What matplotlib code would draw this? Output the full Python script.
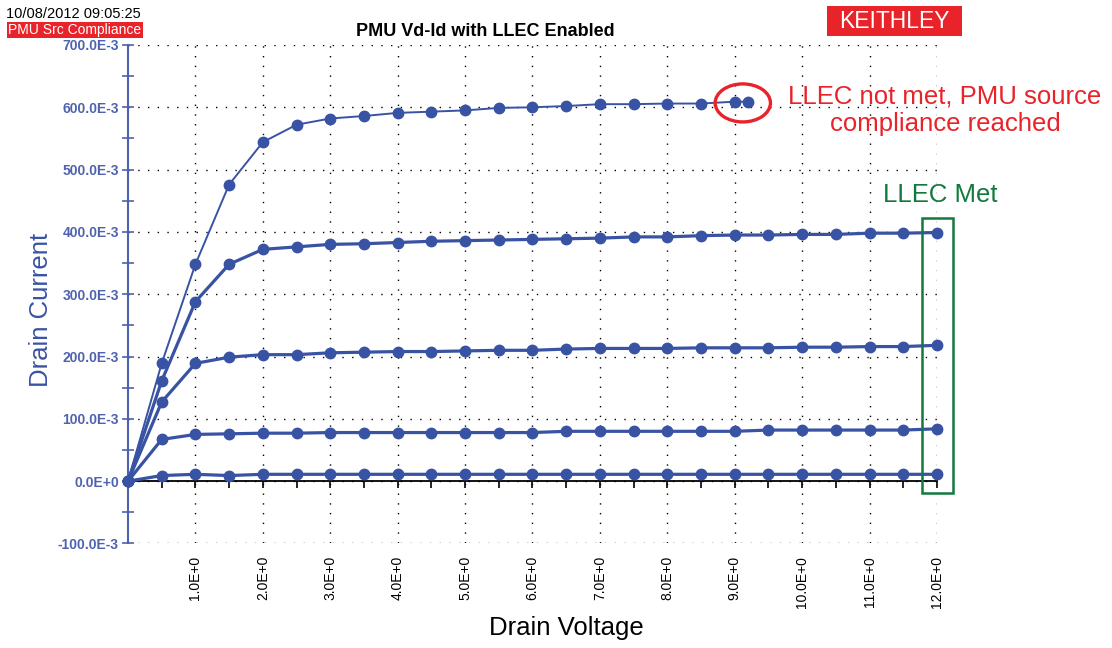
import matplotlib
matplotlib.use("Agg")
import matplotlib.pyplot as plt
from matplotlib.patches import Ellipse, Rectangle
from matplotlib.ticker import FuncFormatter, MultipleLocator

plt.rcParams['font.family'] = ['Liberation Sans', 'DejaVu Sans']

# drain voltage sweep (V)
vd = [0.0, 0.5, 1.0, 1.5, 2.0, 2.5, 3.0, 3.5, 4.0, 4.5, 5.0, 5.5, 6.0,
      6.5, 7.0, 7.5, 8.0, 8.5, 9.0, 9.5, 10.0, 10.5, 11.0, 11.5, 12.0]
# highest gate bias stops early when the source hits compliance
vd_top = [0.0, 0.5, 1.0, 1.5, 2.0, 2.5, 3.0, 3.5, 4.0, 4.5, 5.0, 5.5, 6.0,
          6.5, 7.0, 7.5, 8.0, 8.5, 9.0, 9.2]

# drain current (mA)
id_top = [0, 189, 348, 476, 544, 572, 582, 586, 591, 593, 595, 599, 600,
          602, 605, 605, 606, 606, 609, 609]
id_400 = [0, 161, 288, 348, 372, 376, 380, 381, 383, 385, 386, 387, 388,
          389, 390, 392, 392, 394, 395, 395, 396, 396, 398, 398, 399]
id_200 = [0, 127, 189, 199, 203, 203, 206, 207, 208, 208, 209, 210, 210,
          212, 213, 213, 213, 214, 214, 214, 215, 215, 216, 216, 218]
id_80 = [0, 67, 75, 76, 77, 77, 78, 78, 78, 78, 78, 78, 78,
         80, 80, 80, 80, 80, 80, 82, 82, 82, 82, 82, 84]
id_10 = [0, 9, 11, 9, 11, 11, 11, 11, 11, 11, 11, 11, 11,
         11, 11, 11, 11, 11, 11, 11, 11, 11, 11, 11, 11]

blue = '#3953a4'
axis_blue = '#4f62b0'
red = '#e8232a'
green = '#13793f'

fig = plt.figure(figsize=(11.12, 6.48), dpi=100)
ax = fig.add_axes([0.1151, 0.1613, 0.7275, 0.7693])

def amps(vals):
    return [v / 1000.0 for v in vals]

ax.plot(vd_top, amps(id_top), color=blue, lw=1.4, marker='o', ms=7.5,
        clip_on=False, zorder=5)
for curve in [id_400, id_200, id_80, id_10]:
    ax.plot(vd, amps(curve), color=blue, lw=2.3, marker='o', ms=7.5,
            clip_on=False, zorder=5)

ax.set_xlim(0, 12)
ax.set_ylim(-0.1, 0.7)

# dotted grid, no box
ax.grid(True, color='black', linestyle=(0, (1, 6)), lw=1)
for side in ['top', 'right', 'bottom']:
    ax.spines[side].set_visible(False)
ax.spines['left'].set_color(axis_blue)
ax.spines['left'].set_linewidth(1.5)

ax.yaxis.set_major_locator(MultipleLocator(0.1))
ax.yaxis.set_minor_locator(MultipleLocator(0.05))
ax.yaxis.set_major_formatter(FuncFormatter(
    lambda v, p: '0.0E+0' if abs(v) < 1e-9 else f'{v * 1000:.1f}E-3'))
ax.tick_params(axis='y', which='both', direction='inout', color=axis_blue,
               labelcolor=axis_blue, labelsize=10, width=1.2, pad=2)
ax.tick_params(axis='y', which='major', length=9)
ax.tick_params(axis='y', which='minor', length=8)
for lab in ax.get_yticklabels():
    lab.set_fontweight('bold')

ax.set_xticks([1, 2, 3, 4, 5, 6, 7, 8, 9, 10, 11, 12])
ax.xaxis.set_major_formatter(FuncFormatter(lambda v, p: f'{v:.1f}E+0'))
ax.tick_params(axis='x', length=0, labelsize=10, labelrotation=90, pad=9)

# zero line with its own ticks every 0.5 V
zero_ax = ax.secondary_xaxis(0.125)
zero_ax.spines['bottom'].set_color('black')
zero_ax.spines['bottom'].set_linewidth(1.3)
zero_ax.xaxis.set_major_locator(MultipleLocator(0.5))
zero_ax.tick_params(axis='x', direction='out', length=5, width=1.2,
                    labelbottom=False)

ax.set_ylabel('Drain Current', fontsize=18.5, color=blue)
ax.yaxis.set_label_coords(-0.093, 0.468)
fig.text(566 / 1112, 1 - 628 / 648, 'Drain Voltage', fontsize=18.5,
         ha='center', va='center')

fig.text(485 / 1112, 1 - 32 / 648, 'PMU Vd-Id with LLEC Enabled',
         fontsize=13, fontweight='bold', ha='center', va='center')

fig.text(6 / 1112, 1 - 14 / 648, '10/08/2012 09:05:25', fontsize=10.5,
         ha='left', va='center')
fig.text(8 / 1112, 1 - 30 / 648, 'PMU Src Compliance', fontsize=10,
         color='white', ha='left', va='center',
         bbox=dict(boxstyle='square,pad=0.1', fc=red, ec='none'))

# logo box
fig.patches.append(Rectangle((827 / 1112, 1 - 36 / 648), 135 / 1112,
                             30 / 648, transform=fig.transFigure,
                             fc=red, ec='none'))
fig.text(894.5 / 1112, 1 - 21 / 648, 'KEITHLEY', fontsize=16.5,
         color='white', ha='center', va='center')

# compliance annotation
ax.add_patch(Ellipse((9.12, 0.607), 0.82, 0.061, fill=False, ec=red,
                     lw=2.4, clip_on=False, zorder=6))
fig.text(945 / 1112, 1 - 110 / 648,
         'LLEC not met, PMU source\ncompliance reached', fontsize=18.5,
         color=red, ha='center', va='center', linespacing=1.2)

# LLEC met annotation
ax.add_patch(Rectangle((11.78, -0.019), 0.46, 0.441, fill=False, ec=green,
                       lw=1.8, clip_on=False, zorder=6))
fig.text(940 / 1112, 1 - 195 / 648, 'LLEC Met', fontsize=18.5,
         color=green, ha='center', va='center')

fig.savefig('out.png', dpi=100)
